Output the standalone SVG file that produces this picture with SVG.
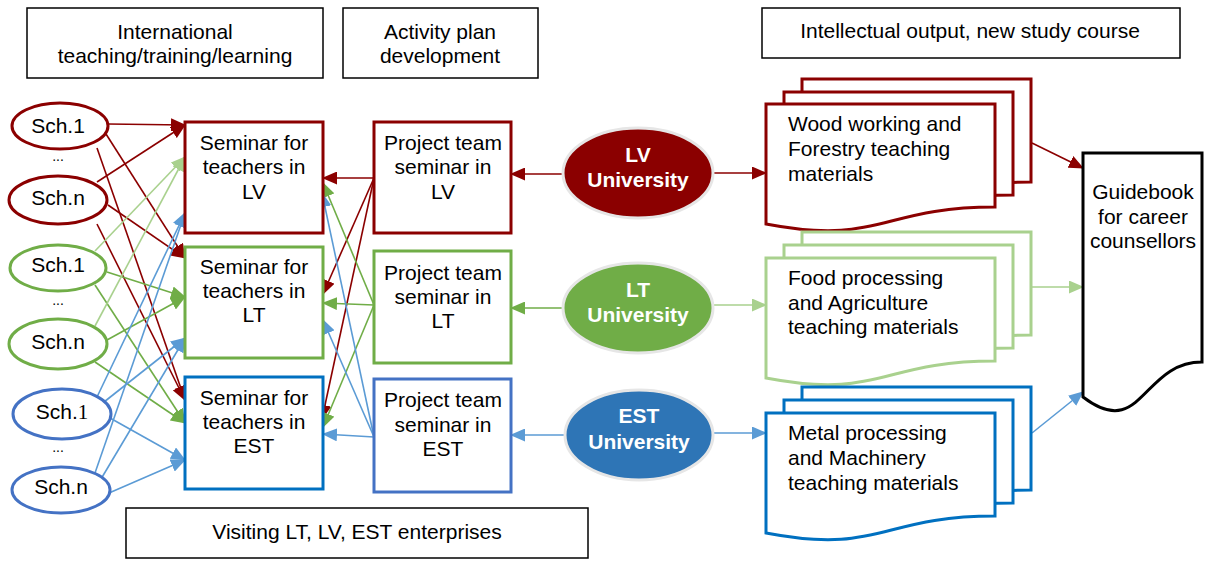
<svg xmlns="http://www.w3.org/2000/svg" width="1205" height="561" viewBox="0 0 1205 561">
<style>
text{font-family:"Liberation Sans",Arial,sans-serif;font-size:21px;fill:#000}
.c{text-anchor:middle}
.w{fill:#fff;font-weight:bold;font-size:21px}
.hdr{fill:#fff;stroke:#000;stroke-width:1.5}
.dr{stroke:#8B0000}
.g{stroke:#70AD47}
.lg{stroke:#A9D18E}
.b{stroke:#5B9BD5}
.sch{fill:#fff;stroke-width:3}
.box{fill:#fff;stroke-width:3}
.doc{fill:#fff;stroke-width:3}
#conn line{stroke-width:1.6;fill:none}
.dot{font-size:14px}
</style>
<defs>
<marker id="m-dr" viewBox="0 0 15 13" refX="14" refY="6.5" markerWidth="15" markerHeight="13" orient="auto" markerUnits="userSpaceOnUse"><path d="M0,0 L15,6.5 L0,13 Z" fill="#8B0000"/></marker>
<marker id="m-g" viewBox="0 0 15 13" refX="14" refY="6.5" markerWidth="15" markerHeight="13" orient="auto" markerUnits="userSpaceOnUse"><path d="M0,0 L15,6.5 L0,13 Z" fill="#70AD47"/></marker>
<marker id="m-lg" viewBox="0 0 15 13" refX="14" refY="6.5" markerWidth="15" markerHeight="13" orient="auto" markerUnits="userSpaceOnUse"><path d="M0,0 L15,6.5 L0,13 Z" fill="#A9D18E"/></marker>
<marker id="m-b" viewBox="0 0 15 13" refX="14" refY="6.5" markerWidth="15" markerHeight="13" orient="auto" markerUnits="userSpaceOnUse"><path d="M0,0 L15,6.5 L0,13 Z" fill="#5B9BD5"/></marker>
<path id="docshape" d="M0,0 H229 V103 C114.5,103 114.5,142 0,120 Z"/>
</defs>
<rect width="1205" height="561" fill="#fff"/>

<g id="hdr-international"><rect class="hdr" x="27" y="8" width="296" height="70"/><text class="c" x="175" y="39">International</text><text class="c" x="175" y="63">teaching/training/learning</text></g>
<g id="hdr-activity"><rect class="hdr" x="343" y="8" width="195" height="70"/><text class="c" x="440" y="39">Activity plan</text><text class="c" x="440" y="63">development</text></g>
<g id="hdr-output"><rect class="hdr" x="762" y="8" width="418" height="50"/><text class="c" x="970" y="38">Intellectual output, new study course</text></g>
<g id="hdr-visiting"><rect class="hdr" x="126" y="508" width="462" height="50"/><text class="c" x="357" y="539">Visiting LT, LV, EST enterprises</text></g>

<g id="conn">
<line class="dr" x1="108" y1="124" x2="185" y2="125" marker-end="url(#m-dr)"/>
<line class="dr" x1="106" y1="134" x2="185" y2="258" marker-end="url(#m-dr)"/>
<line class="dr" x1="97" y1="148" x2="185" y2="400" marker-end="url(#m-dr)"/>
<line class="dr" x1="97" y1="182" x2="185" y2="125" marker-end="url(#m-dr)"/>
<line class="dr" x1="108" y1="205" x2="185" y2="258" marker-end="url(#m-dr)"/>
<line class="dr" x1="97" y1="224" x2="185" y2="400" marker-end="url(#m-dr)"/>
<line class="lg" x1="95" y1="251" x2="185" y2="157" marker-end="url(#m-lg)"/>
<line class="g" x1="107" y1="272" x2="185" y2="297" marker-end="url(#m-g)"/>
<line class="g" x1="95" y1="285" x2="185" y2="423" marker-end="url(#m-g)"/>
<line class="lg" x1="95" y1="326" x2="185" y2="157" marker-end="url(#m-lg)"/>
<line class="g" x1="107" y1="340" x2="185" y2="297" marker-end="url(#m-g)"/>
<line class="g" x1="95" y1="362" x2="185" y2="423" marker-end="url(#m-g)"/>
<line class="b" x1="97" y1="397" x2="185" y2="213" marker-end="url(#m-b)"/>
<line class="b" x1="104" y1="402" x2="185" y2="338" marker-end="url(#m-b)"/>
<line class="b" x1="110" y1="418" x2="185" y2="460" marker-end="url(#m-b)"/>
<line class="b" x1="95" y1="473" x2="185" y2="213" marker-end="url(#m-b)"/>
<line class="b" x1="101" y1="479" x2="185" y2="338" marker-end="url(#m-b)"/>
<line class="b" x1="109" y1="493" x2="185" y2="460" marker-end="url(#m-b)"/>
<line class="dr" x1="374" y1="178" x2="323" y2="178" marker-end="url(#m-dr)"/>
<line class="dr" x1="374" y1="178" x2="323" y2="294" marker-end="url(#m-dr)"/>
<line class="dr" x1="374" y1="178" x2="322" y2="419" marker-end="url(#m-dr)"/>
<line class="g" x1="374" y1="305" x2="323" y2="183" marker-end="url(#m-g)"/>
<line class="g" x1="374" y1="305" x2="323" y2="303" marker-end="url(#m-g)"/>
<line class="g" x1="374" y1="305" x2="323" y2="427" marker-end="url(#m-g)"/>
<line class="b" x1="374" y1="437" x2="322" y2="193" marker-end="url(#m-b)"/>
<line class="b" x1="374" y1="437" x2="323" y2="320" marker-end="url(#m-b)"/>
<line class="b" x1="374" y1="437" x2="323" y2="434" marker-end="url(#m-b)"/>
<line class="dr" x1="563" y1="174" x2="511" y2="174" marker-end="url(#m-dr)"/>
<line class="g" x1="564" y1="308" x2="511" y2="308" marker-end="url(#m-g)"/>
<line class="b" x1="565" y1="435" x2="511" y2="435" marker-end="url(#m-b)"/>
<line class="dr" x1="712" y1="173" x2="766" y2="173" marker-end="url(#m-dr)"/>
<line class="lg" x1="712" y1="305" x2="766" y2="305" marker-end="url(#m-lg)"/>
<line class="b" x1="713" y1="433" x2="766" y2="433" marker-end="url(#m-b)"/>
<line class="dr" x1="1032" y1="143" x2="1083" y2="168" marker-end="url(#m-dr)"/>
<line class="lg" x1="1032" y1="287" x2="1083" y2="287" marker-end="url(#m-lg)"/>
<line class="b" x1="1032" y1="433" x2="1083" y2="392" marker-end="url(#m-b)"/>
</g>

<g id="sch-lv-1"><ellipse class="sch dr" cx="60" cy="126" rx="48" ry="23"/><text class="c" x="58" y="133">Sch.1</text></g>
<text class="c dot" x="58" y="161">...</text>
<g id="sch-lv-n"><ellipse class="sch dr" cx="58" cy="200" rx="49" ry="24"/><text class="c" x="58" y="205">Sch.n</text></g>
<g id="sch-lt-1"><ellipse class="sch g" cx="58" cy="268" rx="48" ry="23"/><text class="c" x="58" y="272">Sch.1</text></g>
<text class="c dot" x="58" y="305">...</text>
<g id="sch-lt-n"><ellipse class="sch g" cx="58" cy="344" rx="49" ry="25"/><text class="c" x="58" y="349">Sch.n</text></g>
<g id="sch-est-1"><ellipse class="sch" stroke="#4472C4" cx="62" cy="414" rx="49" ry="25"/><text class="c" x="62" y="419">Sch.<tspan style="font-family:'Liberation Serif',serif">1</tspan></text></g>
<text class="c dot" x="58" y="452">...</text>
<g id="sch-est-n"><ellipse class="sch" stroke="#4472C4" cx="61" cy="490" rx="49" ry="23"/><text class="c" x="61" y="494">Sch.n</text></g>

<g id="sem-lv"><rect class="box dr" x="185" y="122" width="138" height="111"/><text class="c" x="254" y="150">Seminar for</text><text class="c" x="254" y="174">teachers in</text><text class="c" x="254" y="199">LV</text></g>
<g id="sem-lt"><rect class="box g" x="185" y="247" width="138" height="111"/><text class="c" x="254" y="274">Seminar for</text><text class="c" x="254" y="298">teachers in</text><text class="c" x="254" y="322">LT</text></g>
<g id="sem-est"><rect class="box" stroke="#0070C0" x="185" y="377" width="138" height="112"/><text class="c" x="254" y="405">Seminar for</text><text class="c" x="254" y="429">teachers in</text><text class="c" x="254" y="453">EST</text></g>

<g id="proj-lv"><rect class="box dr" stroke-width="2.5" x="374" y="122" width="137" height="111"/><text class="c" x="443" y="150">Project team</text><text class="c" x="443" y="174">seminar in</text><text class="c" x="443" y="199">LV</text></g>
<g id="proj-lt"><rect class="box g" x="374" y="251" width="137" height="112"/><text class="c" x="443" y="280">Project team</text><text class="c" x="443" y="304">seminar in</text><text class="c" x="443" y="328">LT</text></g>
<g id="proj-est"><rect class="box" stroke="#4472C4" x="374" y="379" width="137" height="113"/><text class="c" x="443" y="407">Project team</text><text class="c" x="443" y="432">seminar in</text><text class="c" x="443" y="456">EST</text></g>

<g id="uni-lv"><ellipse cx="638" cy="173" rx="75" ry="45" fill="#8B0000" stroke="#E6E6E6" stroke-width="3"/><text class="c w" x="638" y="162">LV</text><text class="c w" x="638" y="187">University</text></g>
<g id="uni-lt"><ellipse cx="638" cy="308" rx="75" ry="45" fill="#70AD47" stroke="#E6E6E6" stroke-width="3"/><text class="c w" x="638" y="297">LT</text><text class="c w" x="638" y="322">University</text></g>
<g id="uni-est"><ellipse cx="639" cy="435" rx="74" ry="45" fill="#2E75B6" stroke="#E6E6E6" stroke-width="3"/><text class="c w" x="639" y="423">EST</text><text class="c w" x="639" y="449">University</text></g>

<g id="mat-lv">
<use href="#docshape" class="doc dr" x="802" y="79"/>
<use href="#docshape" class="doc dr" x="784" y="92"/>
<use href="#docshape" class="doc dr" x="766" y="104"/>
<text x="788" y="131">Wood working and</text><text x="788" y="156">Forestry teaching</text><text x="788" y="181">materials</text>
</g>
<g id="mat-lt">
<use href="#docshape" class="doc lg" x="802" y="232"/>
<use href="#docshape" class="doc lg" x="784" y="245"/>
<use href="#docshape" class="doc lg" x="766" y="258"/>
<text x="788" y="285">Food processing</text><text x="788" y="310">and Agriculture</text><text x="788" y="334">teaching materials</text>
</g>
<g id="mat-est">
<use href="#docshape" class="doc" stroke="#0070C0" x="802" y="387"/>
<use href="#docshape" class="doc" stroke="#0070C0" x="784" y="400"/>
<use href="#docshape" class="doc" stroke="#0070C0" x="766" y="413"/>
<text x="788" y="440">Metal processing</text><text x="788" y="465">and Machinery</text><text x="788" y="490">teaching materials</text>
</g>

<g id="guidebook"><path d="M1083,153 H1202 V362 C1142,362 1142,442 1083,397 Z" fill="#fff" stroke="#000" stroke-width="3"/><text class="c" x="1143" y="199">Guidebook</text><text class="c" x="1143" y="224">for career</text><text class="c" x="1143" y="248">counsellors</text></g>
</svg>
